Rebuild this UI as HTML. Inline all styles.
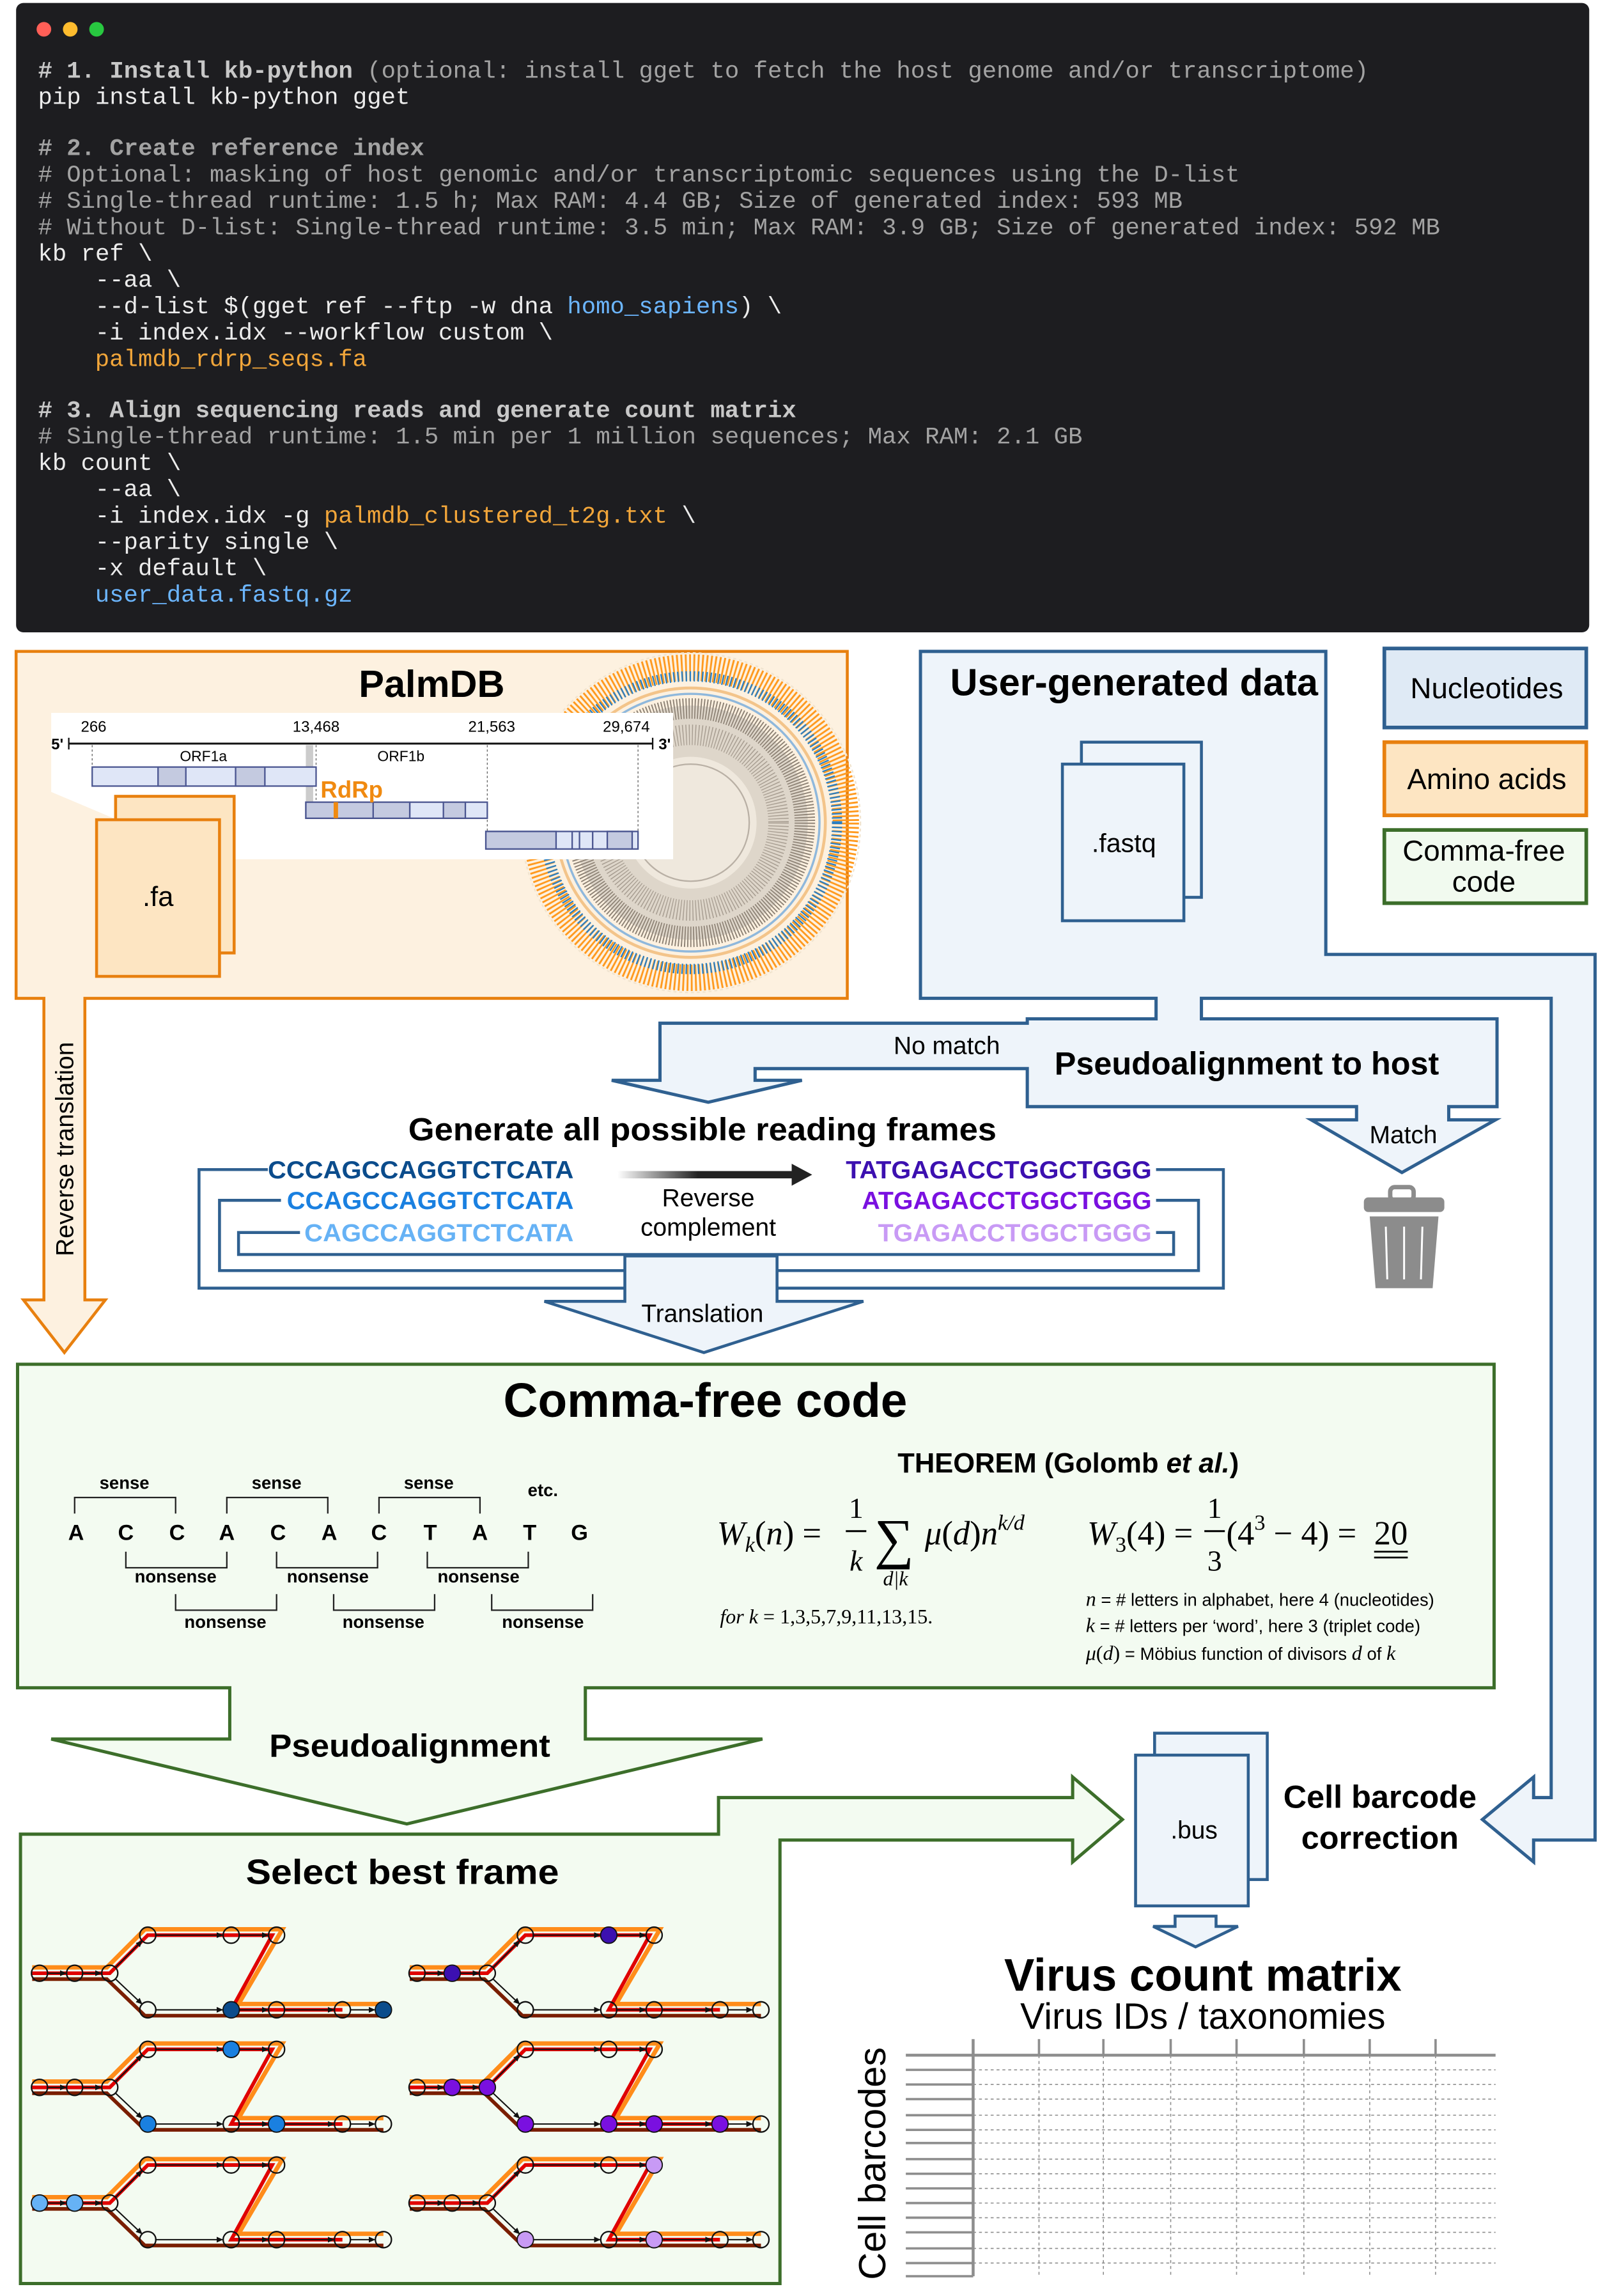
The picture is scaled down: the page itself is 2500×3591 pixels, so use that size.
<!DOCTYPE html>
<html><head><meta charset="utf-8"><style>
html,body{margin:0;padding:0;background:#fff;}
svg{display:block;}
.m{font-family:"Liberation Mono",monospace;font-size:16.3px;}
.c{fill:#a3a3a3;}
.w{fill:#ececec;}
.s{font-family:"Liberation Sans",sans-serif;}
.b{font-family:"Liberation Sans",sans-serif;font-weight:bold;}
.f{font-family:"Liberation Serif",serif;}
</style></head><body>
<svg width="2500" height="3591" viewBox="0 0 1092 1568.5" preserveAspectRatio="none" xmlns="http://www.w3.org/2000/svg">
<defs>
<marker id="ah" markerWidth="5" markerHeight="5" refX="4" refY="2.5" orient="auto" markerUnits="userSpaceOnUse"><path d="M0,0.5 L4.5,2.5 L0,4.5z" fill="#111"/></marker>
<linearGradient id="gr" x1="0" x2="1"><stop offset="0" stop-color="#222" stop-opacity="0"/><stop offset="0.45" stop-color="#222"/><stop offset="1" stop-color="#222"/></linearGradient>
<g id="gph">
<polyline points="22,22 73,22 99,-4 193,-4 163,47 262,47" fill="none" stroke="#ff8c1a" stroke-width="3"/>
<polyline points="22,30 73,30 99,55 262,55" fill="none" stroke="#7a1e00" stroke-width="2.5"/>
<polyline points="22,26 75,26 101,0 186,0 158,51 234,51" fill="none" stroke="#e00000" stroke-width="2.5"/>
<g stroke="#111" stroke-width="0.9" fill="none" marker-end="url(#ah)">
<line x1="32" y1="26" x2="45" y2="26"/><line x1="56" y1="26" x2="69" y2="26"/>
<line x1="79" y1="22" x2="97" y2="4"/><line x1="79" y1="30" x2="97" y2="47"/>
<line x1="106" y1="0" x2="152" y2="0"/><line x1="163" y1="0" x2="183" y2="0"/>
<line x1="106" y1="51" x2="152" y2="51"/><line x1="163" y1="51" x2="183" y2="51"/>
<line x1="194" y1="51" x2="228" y2="51"/><line x1="239" y1="51" x2="256" y2="51"/>
</g>
<g fill="none" stroke="#111" stroke-width="1">
<circle cx="27" cy="26" r="5.5"/><circle cx="51" cy="26" r="5.5"/><circle cx="75" cy="26" r="5.5"/>
<circle cx="101" cy="0" r="5.5"/><circle cx="158" cy="0" r="5.5"/><circle cx="189" cy="0" r="5.5"/>
<circle cx="101" cy="51" r="5.5"/><circle cx="158" cy="51" r="5.5"/><circle cx="189" cy="51" r="5.5"/><circle cx="234" cy="51" r="5.5"/><circle cx="262" cy="51" r="5.5"/>
</g>
</g>
</defs>

<!-- Terminal -->
<rect x="11" y="2" width="1075" height="430" rx="5" fill="#1d1d20"/>
<circle cx="30" cy="20" r="5" fill="#ff5f57"/><circle cx="48" cy="20" r="5" fill="#febc2e"/><circle cx="66" cy="20" r="5" fill="#28c840"/>
<g class="m">
<text x="26" y="53" class="c"><tspan font-weight="bold" fill="#c8c8c8"># 1. Install kb-python</tspan> (optional: install gget to fetch the host genome and/or transcriptome)</text>
<text x="26" y="71" class="w">pip install kb-python gget</text>
<text x="26" y="106" class="c" font-weight="bold" fill="#c8c8c8"># 2. Create reference index</text>
<text x="26" y="124" class="c"># Optional: masking of host genomic and/or transcriptomic sequences using the D-list</text>
<text x="26" y="142" class="c"># Single-thread runtime: 1.5 h; Max RAM: 4.4 GB; Size of generated index: 593 MB</text>
<text x="26" y="160" class="c"># Without D-list: Single-thread runtime: 3.5 min; Max RAM: 3.9 GB; Size of generated index: 592 MB</text>
<text x="26" y="178" class="w">kb ref \</text>
<text x="65" y="196" class="w">--aa \</text>
<text x="65" y="214" class="w">--d-list $(gget ref --ftp -w dna <tspan fill="#6cb6ff">homo_sapiens</tspan>) \</text>
<text x="65" y="232" class="w">-i index.idx --workflow custom \</text>
<text x="65" y="250" fill="#f2a63a">palmdb_rdrp_seqs.fa</text>
<text x="26" y="285" font-weight="bold" fill="#c8c8c8"># 3. Align sequencing reads and generate count matrix</text>
<text x="26" y="303" class="c"># Single-thread runtime: 1.5 min per 1 million sequences; Max RAM: 2.1 GB</text>
<text x="26" y="321" class="w">kb count \</text>
<text x="65" y="339" class="w">--aa \</text>
<text x="65" y="357" class="w">-i index.idx -g <tspan fill="#f2a63a">palmdb_clustered_t2g.txt</tspan> \</text>
<text x="65" y="375" class="w">--parity single \</text>
<text x="65" y="393" class="w">-x default \</text>
<text x="65" y="411" fill="#6cb6ff">user_data.fastq.gz</text>
</g>

<!-- PalmDB -->
<polygon points="11,445 579,445 579,682 58,682 58,888 72,888 44,924 16,888 30,888 30,682 11,682" fill="#fdf1e0" stroke="#e8800f" stroke-width="2"/>
<g>
<circle cx="472" cy="562" r="116" fill="none" stroke="#f1e4cf" stroke-width="1" stroke-dasharray="2 2"/>
<circle cx="472" cy="562" r="106" fill="none" stroke="#ff9a1f" stroke-width="18" stroke-dasharray="1.2 1.6"/>
<circle cx="472" cy="562" r="100" fill="none" stroke="#2a7fc4" stroke-width="7" stroke-dasharray="1 1.8"/>
<circle cx="472" cy="562" r="92" fill="none" stroke="#f3c48a" stroke-width="2"/>
<circle cx="472" cy="562" r="88" fill="none" stroke="#8fb8dc" stroke-width="1.5"/>
<circle cx="472" cy="562" r="80" fill="#ded6ca"/>
<circle cx="472" cy="562" r="78" fill="none" stroke="#8e8376" stroke-width="14" stroke-dasharray="0.8 1.2"/>
<circle cx="472" cy="562" r="60" fill="none" stroke="#a69c90" stroke-width="14" stroke-dasharray="0.6 1.5"/>
<circle cx="472" cy="562" r="45" fill="#efe8dd"/>
<circle cx="472" cy="562" r="40" fill="none" stroke="#b9b0a5" stroke-width="1"/>
</g>
<polygon points="35,487 460,487 460,587 150,587 80,560 35,541" fill="#fff"/>
<text x="295" y="476" class="b" font-size="26" text-anchor="middle">PalmDB</text>
<g class="s" font-size="10.5">
<text x="64" y="500" text-anchor="middle">266</text>
<text x="216" y="500" text-anchor="middle">13,468</text>
<text x="336" y="500" text-anchor="middle">21,563</text>
<text x="428" y="500" text-anchor="middle">29,674</text>
<text x="35" y="512" font-weight="bold">5'</text>
<text x="450" y="512" font-weight="bold">3'</text>
<text x="139" y="520" text-anchor="middle" font-size="10">ORF1a</text>
<text x="274" y="520" text-anchor="middle" font-size="10">ORF1b</text>
</g>
<line x1="47" y1="508" x2="446" y2="508" stroke="#111" stroke-width="1.3"/>
<line x1="47" y1="504" x2="47" y2="512" stroke="#111"/><line x1="446" y1="504" x2="446" y2="512" stroke="#111"/>
<g stroke="#666" stroke-width="0.6" stroke-dasharray="1.5 1.5"><line x1="63" y1="509" x2="63" y2="524"/><line x1="216" y1="509" x2="216" y2="548"/><line x1="333" y1="509" x2="333" y2="568"/><line x1="436" y1="509" x2="436" y2="568"/></g>
<rect x="209" y="509" width="5" height="39" fill="#ccc"/>
<g stroke="#4a5590" stroke-width="1">
<rect x="63" y="524" width="153" height="13" fill="#dfe6f7"/>
<rect x="108" y="524" width="19" height="13" fill="#c4cae0"/><rect x="161" y="524" width="20" height="13" fill="#c4cae0"/>
<rect x="209" y="548" width="124" height="11" fill="#dfe6f7"/>
<rect x="209" y="548" width="71" height="11" fill="#c4cae0"/><rect x="255" y="548" width="25" height="11" fill="#c4cae0"/><rect x="303" y="548" width="15" height="11" fill="#c4cae0"/>
<rect x="332" y="568" width="104" height="12" fill="#dfe6f7"/>
<rect x="332" y="568" width="48" height="12" fill="#c4cae0"/><line x1="391" y1="568" x2="391" y2="580"/><line x1="396" y1="568" x2="396" y2="580"/><line x1="405" y1="568" x2="405" y2="580"/><rect x="415" y="568" width="17" height="12" fill="#c4cae0"/>
</g>
<rect x="228" y="548" width="3" height="11" fill="#f08a10"/>
<text x="219" y="545" class="b" font-size="16" fill="#f08a10">RdRp</text>
<rect x="79" y="544" width="81" height="107" fill="#fde5c2" stroke="#e8800f" stroke-width="2"/>
<rect x="66" y="560" width="84" height="107" fill="#fde5c2" stroke="#e8800f" stroke-width="2"/>
<text x="108" y="619" class="s" font-size="19" text-anchor="middle">.fa</text>
<text transform="translate(50,785) rotate(-90)" class="s" font-size="17" text-anchor="middle">Reverse translation</text>

<!-- User-generated data + pseudoalignment to host -->
<polygon points="629,445 906,445 906,652 1090,652 1090,1257 1048,1257 1048,1272 1013,1243 1048,1214 1048,1228 1060,1228 1060,682 821,682 821,696 1023,696 1023,756 990,756 990,765 1022,765 958,801 896,765 927,765 927,756 702,756 702,730 516,730 516,738 548,738 484,753 418,738 451,738 451,699 702,699 702,696 790,696 790,682 629,682" fill="#eef4fa" stroke="#2f6090" stroke-width="2.2" stroke-linejoin="miter"/>
<text x="775" y="475" class="b" font-size="26" text-anchor="middle">User-generated data</text>
<rect x="739" y="507" width="82" height="106" fill="#eef4fa" stroke="#2f6090" stroke-width="2"/>
<rect x="726" y="522" width="83" height="107" fill="#eef4fa" stroke="#2f6090" stroke-width="2"/>
<text x="768" y="582" class="s" font-size="18" text-anchor="middle">.fastq</text>
<text x="647" y="720" class="s" font-size="17" text-anchor="middle">No match</text>
<text x="852" y="734" class="b" font-size="22" text-anchor="middle">Pseudoalignment to host</text>
<text x="959" y="781" class="s" font-size="17" text-anchor="middle">Match</text>
<g fill="#8c8c8c">
<rect x="950" y="811" width="16" height="9" rx="3" fill="none" stroke="#8c8c8c" stroke-width="3"/>
<rect x="932" y="818" width="55" height="10" rx="3"/>
<polygon points="936,831 983,831 979,880 940,880"/>
<g stroke="#fff" stroke-width="1.3"><line x1="947" y1="838" x2="948" y2="874"/><line x1="959.5" y1="838" x2="959.5" y2="874"/><line x1="972" y1="838" x2="971" y2="874"/></g>
</g>

<!-- Legend -->
<rect x="946" y="443" width="138" height="54" fill="#dfeaf5" stroke="#2f6090" stroke-width="2.5"/>
<text x="1016" y="477" class="s" font-size="20" text-anchor="middle">Nucleotides</text>
<rect x="946" y="507" width="138" height="50" fill="#fde5c2" stroke="#e8800f" stroke-width="2.5"/>
<text x="1016" y="539" class="s" font-size="20" text-anchor="middle">Amino acids</text>
<rect x="946" y="567" width="138" height="50" fill="#f1faef" stroke="#3c6e2a" stroke-width="2.5"/>
<text x="1014" y="588" class="s" font-size="20" text-anchor="middle">Comma-free</text>
<text x="1014" y="609" class="s" font-size="20" text-anchor="middle">code</text>

<!-- Reading frames -->
<text x="480" y="779" class="b" font-size="22" text-anchor="middle" textLength="402" lengthAdjust="spacingAndGlyphs">Generate all possible reading frames</text>
<g fill="none" stroke="#2f6090" stroke-width="2">
<polyline points="183,799 136,799 136,880 836,880 836,799 790,799"/>
<polyline points="192,820 150,820 150,868 819,868 819,820 790,820"/>
<polyline points="205,842 163,842 163,857 802,857 802,842 790,842"/>
</g>
<polygon points="427,858 531,858 531,889 590,889 481,924 372,889 427,889" fill="#eef4fa" stroke="#2f6090" stroke-width="2"/>
<text x="480" y="903" class="s" font-size="17" text-anchor="middle">Translation</text>
<g class="b" font-size="17">
<text x="392" y="805" text-anchor="end" fill="#0b4c8c" textLength="209" lengthAdjust="spacingAndGlyphs">CCCAGCCAGGTCTCATA</text>
<text x="392" y="826" text-anchor="end" fill="#1a80e0" textLength="196" lengthAdjust="spacingAndGlyphs">CCAGCCAGGTCTCATA</text>
<text x="392" y="848" text-anchor="end" fill="#66b2f5" textLength="184" lengthAdjust="spacingAndGlyphs">CAGCCAGGTCTCATA</text>
<text x="578" y="805" fill="#3c10b0" textLength="209" lengthAdjust="spacingAndGlyphs">TATGAGACCTGGCTGGG</text>
<text x="589" y="826" fill="#7a10e0" textLength="198" lengthAdjust="spacingAndGlyphs">ATGAGACCTGGCTGGG</text>
<text x="600" y="848" fill="#c89af5" textLength="187" lengthAdjust="spacingAndGlyphs">TGAGACCTGGCTGGG</text>
</g>
<rect x="422" y="800" width="122" height="5" fill="url(#gr)"/>
<polygon points="541,795 555,802.5 541,810" fill="#222"/>
<text x="484" y="824" class="s" font-size="17" text-anchor="middle">Reverse</text>
<text x="484" y="844" class="s" font-size="17" text-anchor="middle">complement</text>

<!-- Comma-free code -->
<polygon points="12,932 1021,932 1021,1153 400,1153 400,1188 521,1188 278,1246 35,1188 157,1188 157,1153 12,1153" fill="#f3fbf1" stroke="#3c6e2a" stroke-width="2.2"/>
<text x="482" y="968" class="b" font-size="33" text-anchor="middle" textLength="276" lengthAdjust="spacingAndGlyphs">Comma-free code</text>
<text x="280" y="1200" class="b" font-size="22" text-anchor="middle" textLength="192" lengthAdjust="spacingAndGlyphs">Pseudoalignment</text>
<g class="b" font-size="12" text-anchor="middle">
<text x="85" y="1017">sense</text><text x="189" y="1017">sense</text><text x="293" y="1017">sense</text><text x="371" y="1022">etc.</text>
<text x="120" y="1081">nonsense</text><text x="224" y="1081">nonsense</text><text x="327" y="1081">nonsense</text>
<text x="154" y="1112">nonsense</text><text x="262" y="1112">nonsense</text><text x="371" y="1112">nonsense</text>
</g>
<g class="b" font-size="15" text-anchor="middle">
<text x="52" y="1052">A</text><text x="86" y="1052">C</text><text x="121" y="1052">C</text><text x="155" y="1052">A</text><text x="190" y="1052">C</text><text x="225" y="1052">A</text><text x="259" y="1052">C</text><text x="294" y="1052">T</text><text x="328" y="1052">A</text><text x="362" y="1052">T</text><text x="396" y="1052">G</text>
</g>
<g fill="none" stroke="#222" stroke-width="1">
<polyline points="51,1034 51,1023 120,1023 120,1034"/><polyline points="155,1034 155,1023 224,1023 224,1034"/><polyline points="259,1034 259,1023 328,1023 328,1034"/>
<polyline points="86,1060 86,1071 155,1071 155,1060"/><polyline points="189,1060 189,1071 258,1071 258,1060"/><polyline points="292,1060 292,1071 361,1071 361,1060"/>
<polyline points="120,1089 120,1100 189,1100 189,1089"/><polyline points="228,1089 228,1100 297,1100 297,1089"/><polyline points="336,1089 336,1100 405,1100 405,1089"/>
</g>
<text x="730" y="1006" class="b" font-size="19" text-anchor="middle">THEOREM (Golomb <tspan font-style="italic">et al.</tspan>)</text>
<g class="f" font-size="23">
<text x="490" y="1055" font-style="italic">W<tspan font-size="15" dy="5">k</tspan><tspan dy="-5" font-style="normal">(</tspan>n<tspan font-style="normal">) =</tspan></text>
<text x="585" y="1037" text-anchor="middle" font-size="20">1</text>
<line x1="578" y1="1046" x2="592" y2="1046" stroke="#000" stroke-width="1.3"/>
<text x="585" y="1073" text-anchor="middle" font-size="20" font-style="italic">k</text>
<text x="611" y="1064" text-anchor="middle" font-size="38">∑</text>
<text x="612" y="1083" text-anchor="middle" font-size="14" font-style="italic">d|k</text>
<text x="632" y="1055" font-style="italic">μ<tspan font-style="normal">(</tspan>d<tspan font-style="normal">)</tspan>n<tspan font-size="15" dy="-10">k/d</tspan></text>
<text x="743" y="1055" font-style="italic">W<tspan font-size="15" dy="5" font-style="normal">3</tspan><tspan dy="-5" font-style="normal">(4) =</tspan></text>
<text x="830" y="1037" text-anchor="middle" font-size="20">1</text>
<line x1="823" y1="1046" x2="837" y2="1046" stroke="#000" stroke-width="1.3"/>
<text x="830" y="1073" text-anchor="middle" font-size="20">3</text>
<text x="838" y="1055">(4<tspan font-size="15" dy="-10">3</tspan><tspan dy="10"> − 4) = </tspan></text>
<text x="939" y="1055">20</text>
<line x1="939" y1="1060" x2="962" y2="1060" stroke="#000" stroke-width="1.2"/>
<line x1="939" y1="1064" x2="962" y2="1064" stroke="#000" stroke-width="1.2"/>
</g>
<text x="492" y="1109" class="f" font-size="14"><tspan font-style="italic">for k</tspan> = 1,3,5,7,9,11,13,15.</text>
<g class="s" font-size="12">
<text x="742" y="1097"><tspan class="f" font-style="italic" font-size="14">n</tspan> = # letters in alphabet, here 4 (nucleotides)</text>
<text x="742" y="1115"><tspan class="f" font-style="italic" font-size="14">k</tspan> = # letters per ‘word’, here 3 (triplet code)</text>
<text x="742" y="1134"><tspan class="f" font-style="italic" font-size="14">μ</tspan><tspan class="f" font-size="14">(<tspan font-style="italic">d</tspan>)</tspan> = Möbius function of divisors <tspan class="f" font-style="italic" font-size="14">d</tspan> of  <tspan class="f" font-style="italic" font-size="14">k</tspan></text>
</g>

<!-- Select best frame -->
<polygon points="14,1253 491,1253 491,1228 733,1228 733,1214 767,1243 733,1272 733,1257 533,1257 533,1560 14,1560" fill="#f3fbf1" stroke="#3c6e2a" stroke-width="2.2"/>
<text x="275" y="1287" class="b" font-size="24" text-anchor="middle" textLength="214" lengthAdjust="spacingAndGlyphs">Select best frame</text>
<use href="#gph" x="0" y="1322"/>
<use href="#gph" x="258" y="1322"/>
<use href="#gph" x="0" y="1400"/>
<use href="#gph" x="258" y="1400"/>
<use href="#gph" x="0" y="1479"/>
<use href="#gph" x="258" y="1479"/>
<g stroke="#111" stroke-width="0.6">
<circle cx="158" cy="1373" r="5.5" fill="#0b4c8c"/><circle cx="262" cy="1373" r="5.5" fill="#0b4c8c"/>
<circle cx="309" cy="1348" r="5.5" fill="#3c10b0"/><circle cx="416" cy="1322" r="5.5" fill="#3c10b0"/>
<circle cx="158" cy="1400" r="5.5" fill="#1a80e0"/><circle cx="101" cy="1451" r="5.5" fill="#1a80e0"/><circle cx="189" cy="1451" r="5.5" fill="#1a80e0"/>
<circle cx="309" cy="1426" r="5.5" fill="#7a10e0"/><circle cx="333" cy="1426" r="5.5" fill="#7a10e0"/><circle cx="359" cy="1451" r="5.5" fill="#7a10e0"/><circle cx="416" cy="1451" r="5.5" fill="#7a10e0"/><circle cx="447" cy="1451" r="5.5" fill="#7a10e0"/><circle cx="492" cy="1451" r="5.5" fill="#7a10e0"/>
<circle cx="27" cy="1505" r="5.5" fill="#66b2f5"/><circle cx="51" cy="1505" r="5.5" fill="#66b2f5"/>
<circle cx="447" cy="1479" r="5.5" fill="#c89af5"/><circle cx="359" cy="1530" r="5.5" fill="#c89af5"/><circle cx="447" cy="1530" r="5.5" fill="#c89af5"/>
</g>

<!-- .bus -->
<rect x="789" y="1184" width="77" height="100" fill="#eef4fa" stroke="#2f6090" stroke-width="2"/>
<rect x="776" y="1199" width="77" height="103" fill="#eef4fa" stroke="#2f6090" stroke-width="2"/>
<text x="816" y="1256" class="s" font-size="17" text-anchor="middle">.bus</text>
<text x="943" y="1235" class="b" font-size="22" text-anchor="middle">Cell barcode</text>
<text x="943" y="1263" class="b" font-size="22" text-anchor="middle">correction</text>
<polygon points="803,1309 831,1309 831,1316 846,1316 817,1330 788,1316 803,1316" fill="#eef4fa" stroke="#2f6090" stroke-width="2"/>

<!-- Matrix -->
<text x="822" y="1360" class="b" font-size="31" text-anchor="middle">Virus count matrix</text>
<text x="822" y="1386" class="s" font-size="25" text-anchor="middle">Virus IDs / taxonomies</text>
<text transform="translate(605,1478) rotate(-90)" class="s" font-size="26" text-anchor="middle">Cell barcodes</text>
<g stroke="#8e8e8e">
<line x1="619" y1="1404" x2="1022" y2="1404" stroke-width="2"/>
<line x1="665" y1="1393" x2="665" y2="1555" stroke-width="2"/>
<g stroke-width="1.6">
<line x1="710" y1="1393" x2="710" y2="1404"/><line x1="754" y1="1393" x2="754" y2="1404"/><line x1="800" y1="1393" x2="800" y2="1404"/><line x1="845" y1="1393" x2="845" y2="1404"/><line x1="891" y1="1393" x2="891" y2="1404"/><line x1="936" y1="1393" x2="936" y2="1404"/><line x1="981" y1="1393" x2="981" y2="1404"/>
<line x1="619" y1="1414" x2="665" y2="1414"/><line x1="619" y1="1424" x2="665" y2="1424"/><line x1="619" y1="1434" x2="665" y2="1434"/><line x1="619" y1="1445" x2="665" y2="1445"/><line x1="619" y1="1455" x2="665" y2="1455"/><line x1="619" y1="1464" x2="665" y2="1464"/><line x1="619" y1="1475" x2="665" y2="1475"/><line x1="619" y1="1485" x2="665" y2="1485"/><line x1="619" y1="1495" x2="665" y2="1495"/><line x1="619" y1="1505" x2="665" y2="1505"/><line x1="619" y1="1515" x2="665" y2="1515"/><line x1="619" y1="1525" x2="665" y2="1525"/><line x1="619" y1="1536" x2="665" y2="1536"/><line x1="619" y1="1546" x2="665" y2="1546"/><line x1="619" y1="1555" x2="665" y2="1555"/>
</g>
<g stroke-width="0.7" stroke-dasharray="2 2">
<line x1="665" y1="1414" x2="1022" y2="1414"/><line x1="665" y1="1424" x2="1022" y2="1424"/><line x1="665" y1="1434" x2="1022" y2="1434"/><line x1="665" y1="1445" x2="1022" y2="1445"/><line x1="665" y1="1455" x2="1022" y2="1455"/><line x1="665" y1="1464" x2="1022" y2="1464"/><line x1="665" y1="1475" x2="1022" y2="1475"/><line x1="665" y1="1485" x2="1022" y2="1485"/><line x1="665" y1="1495" x2="1022" y2="1495"/><line x1="665" y1="1505" x2="1022" y2="1505"/><line x1="665" y1="1515" x2="1022" y2="1515"/><line x1="665" y1="1525" x2="1022" y2="1525"/><line x1="665" y1="1536" x2="1022" y2="1536"/><line x1="665" y1="1546" x2="1022" y2="1546"/>
<line x1="710" y1="1404" x2="710" y2="1555"/><line x1="754" y1="1404" x2="754" y2="1555"/><line x1="800" y1="1404" x2="800" y2="1555"/><line x1="845" y1="1404" x2="845" y2="1555"/><line x1="891" y1="1404" x2="891" y2="1555"/><line x1="936" y1="1404" x2="936" y2="1555"/><line x1="981" y1="1404" x2="981" y2="1555"/>
</g>
</g>
</svg>
</body></html>
